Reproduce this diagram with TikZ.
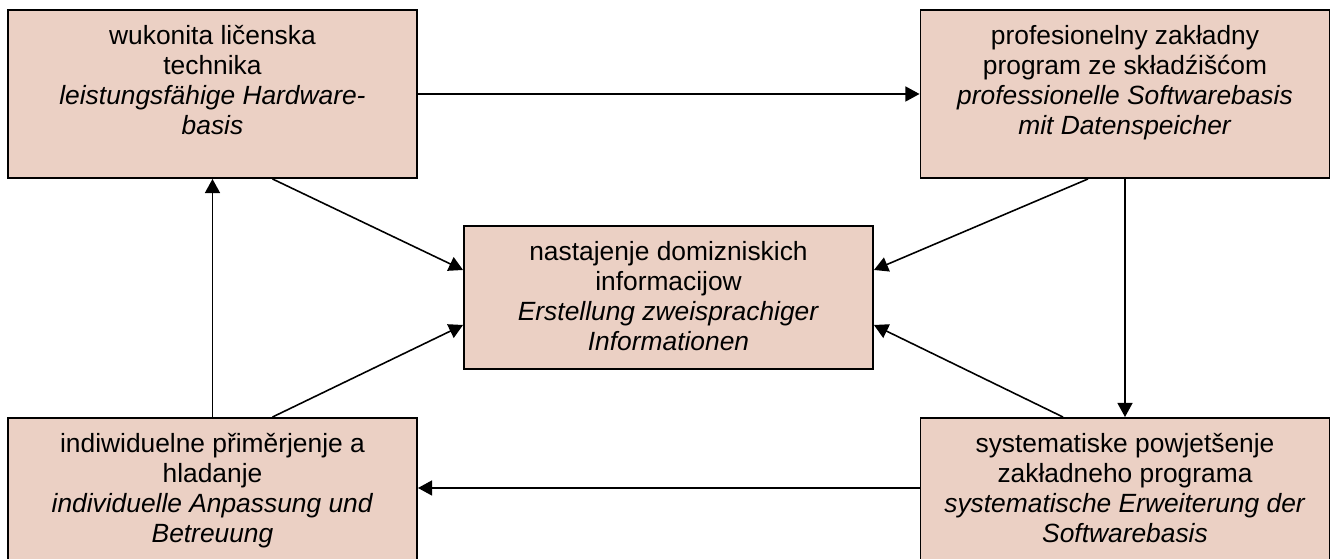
\documentclass[tikz,border=0pt]{standalone}
\usepackage{fontspec}
\setmainfont{Liberation Sans}
\usepackage{tikz}
\usetikzlibrary{arrows.meta,positioning}
\definecolor{blokfill}{RGB}{235,208,196}
\tikzset{
	blok/.style = {rectangle, draw=black, line width=1.1pt, fill=blokfill, minimum width=8.18cm, inner sep=0pt},
	blok_top/.style = {blok, minimum height=3.36cm},
	blok_mid/.style = {blok, minimum height=2.86cm},
	blok_low/.style = {blok, minimum height=3.0cm},
	blok_txt/.style = {align=center, inner sep=0pt, font=\fontsize{15}{17}\selectfont},
	conn/.style = {line width=0.9pt}
}
\begin{document}
\begin{tikzpicture}[->, >={Triangle[length=8pt,width=8.5pt]}]
\useasboundingbox (0,0) rectangle (26.66,11.18);
\clip (0,0) rectangle (26.66,11.18);
% boxes
\node [blok_top] (hw)   at (4.25,9.30)  {};
\node [blok_top] (sw)   at (22.50,9.30) {};
\node [blok_mid] (info) at (13.37,5.23) {};
\node [blok_low] (sup)  at (4.25,1.32)  {};
\node [blok_low] (dev)  at (22.50,1.32) {};
% texts
\node [blok_txt, below=0.32cm of hw.north] (hwt) {wukonita ličenska\\ technika\\ \textit{leistungsfähige Hardware-}\\ \textit{basis}};
\node [blok_txt, below=0.32cm of sw.north] (swt) {profesionelny zakładny\\ program ze składźišćom\\ \textit{professionelle Softwarebasis}\\ \textit{mit Datenspeicher}};
\node [blok_txt, below=0.32cm of info.north] (infot) {nastajenje domizniskich\\ informacijow\\ \textit{Erstellung zweisprachiger}\\ \textit{Informationen}};
\node [blok_txt, below=0.32cm of sup.north] (supt) {indiwiduelne přiměrjenje a\\ hladanje\\ \textit{individuelle Anpassung und}\\ \textit{Betreuung}};
\node [blok_txt, below=0.32cm of dev.north] (devt) {systematiske powjetšenje\\ zakładneho programa\\ \textit{systematische Erweiterung der}\\ \textit{Softwarebasis}};
% cycle
\draw [conn] (hw) -- (sw);
\draw [conn] (sw) -- (dev);
\draw [conn] ([yshift=0.1cm]dev.west) -- ([yshift=0.1cm]sup.east);
\draw [conn] (sup) -- (hw);
% into the middle
\draw [conn] ([xshift=1.2cm]hw.south) -- ([yshift=0.55cm]info.west);
\draw [conn] ([xshift=1.2cm]sup.north) -- ([yshift=-0.55cm]info.west);
\draw [conn] ([xshift=-0.74cm]sw.south) -- ([yshift=0.55cm]info.east);
\draw [conn] ([xshift=-1.24cm]dev.north) -- ([yshift=-0.55cm]info.east);
\end{tikzpicture}
\end{document}
